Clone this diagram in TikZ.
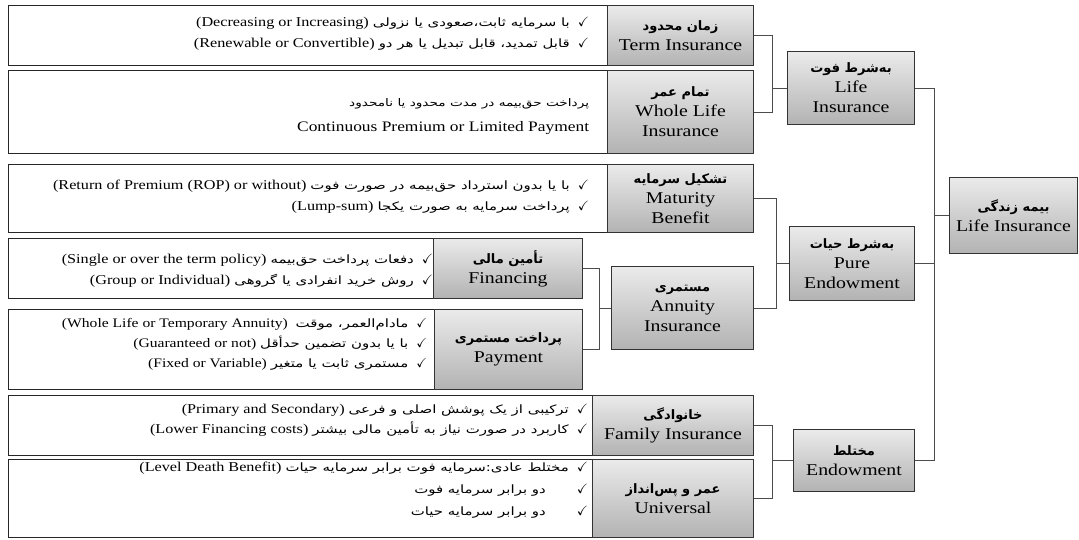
\documentclass[tikz,border=0pt]{standalone}
\usepackage{fontspec}
\usepackage{amssymb}
\setmainfont{Liberation Serif}[FakeStretch=1.2]
\newfontfamily\fafont[Script=Arabic,FakeStretch=1.3]{DejaVu Sans}
\newfontfamily\faheadfont[Script=Arabic]{DejaVu Sans}
\TeXXeTstate=1
\usetikzlibrary{calc}
\newcommand{\fa}[1]{{\fafont\fontsize{11.5}{14}\selectfont\beginR #1\endR}}
\newcommand{\fahead}[1]{{\faheadfont\bfseries\fontsize{13}{16}\selectfont\beginR #1\endR}}
\newcommand{\ck}{\hspace{8pt}$\checkmark$}
\tikzset{
  catbox/.style={draw=black!80, line width=1pt, top color=black!8, bottom color=black!30,
    anchor=north west, inner sep=0pt, align=center, font=\fontsize{16.5}{20}\selectfont},
  detbox/.style={draw=black!85, line width=1.3pt, fill=white, anchor=north west, inner sep=0pt},
  dettxt/.style={anchor=east, inner sep=0pt, align=right, font=\fontsize{13.5}{21}\selectfont},
  link/.style={draw=black!70, line width=0.9pt},
}

\begin{document}
\begin{tikzpicture}[x=1pt,y=-1pt]
				%%%%% START %%%%%
				\def\spa{772}
				\def\spb{776}
				\def\spc{599}
				\def\spd{934}

				\path[use as bounding box] (0,0) rectangle (1079,539);

				% white boxes with the details
				\node[detbox, minimum width=599, minimum height=60] (termd) at (8,5) {};
				\node[detbox, minimum width=599, minimum height=83] (wholed) at (8,70) {};
				\node[detbox, minimum width=599, minimum height=68] (maturd) at (8,164) {};
				\node[detbox, minimum width=425, minimum height=60] (finand) at (8,238) {};
				\node[detbox, minimum width=426, minimum height=80] (paymd) at (8,309) {};
				\node[detbox, minimum width=584, minimum height=60] (familyd) at (8,395) {};
				\node[detbox, minimum width=584, minimum height=78] (univd) at (8,459) {};

				\node[dettxt] (termt) at ([xshift=-19,yshift=2]termd.east)
					{(Decreasing or Increasing)\ \fa{با سرمایه ثابت،صعودی یا نزولی}\ck\\
					 (Renewable or Convertible)\ \fa{قابل تمدید، قابل تبدیل یا هر دو}\ck};
				\node[dettxt, font=\fontsize{14.5}{25}\selectfont] (wholet) at ([xshift=-19,yshift=-4]wholed.east)
					{{\fafont\fontsize{10.5}{12}\selectfont\beginR پرداخت حق‌بیمه در مدت محدود یا نامحدود\endR}\\
					 Continuous Premium or Limited Payment};
				\node[dettxt] (maturt) at ([xshift=-19,yshift=2]maturd.east)
					{(Return of Premium (ROP) or without)\ \fa{با یا بدون استرداد حق‌بیمه در صورت فوت}\ck\\
					 (Lump-sum)\ \fa{پرداخت سرمایه به صورت یکجا}\ck};
				\node[dettxt] (financt) at ([xshift=-1,yshift=-2]finand.east)
					{(Single or over the term policy)\ \fa{دفعات پرداخت حق‌بیمه}\ck\\
					 (Group or Individual)\ \fa{روش خرید انفرادی یا گروهی}\ck};
				\node[dettxt, font=\fontsize{13}{20}\selectfont] (paymt) at ([xshift=-8,yshift=5]paymd.east)
					{(Whole Life or Temporary Annuity)\ \ \fa{مادام‌العمر، موقت}\ck\\
					 (Guaranteed or not)\ \fa{با یا بدون تضمین حدأقل}\ck\\
					 (Fixed or Variable)\ \fa{مستمری ثابت یا متغیر}\ck};
				\node[dettxt, font=\fontsize{13.5}{20}\selectfont] (familyt) at ([xshift=-5,yshift=5]familyd.east)
					{(Primary and Secondary)\ \fa{ترکیبی از یک پوشش اصلی و فرعی}\ck\\
					 (Lower Financing costs)\ \fa{کاربرد در صورت نیاز به تأمین مالی بیشتر}\ck};
				\node[dettxt, font=\fontsize{13.5}{22}\selectfont] (univt) at ([xshift=-5,yshift=9]univd.east)
					{(Level Death Benefit)\ \fa{مختلط عادی:سرمایه فوت برابر سرمایه حیات}\ck\\
					 \fa{دو برابر سرمایه فوت}\hspace{23pt}\ck\\
					 \fa{دو برابر سرمایه حیات}\hspace{23pt}\ck};

				% grey boxes
				\node[catbox, minimum width=146, minimum height=60] (term) at (607,5) {\fahead{زمان محدود}\\Term Insurance};
				\node[catbox, minimum width=146, minimum height=83] (whole) at (607,70) {\fahead{تمام عمر}\\Whole Life\\Insurance};
				\node[catbox, minimum width=127, minimum height=73] (life) at (787,51) {\fahead{به‌شرط فوت}\\Life\\Insurance};
				\node[catbox, minimum width=146, minimum height=68] (matur) at (607,164) {\fahead{تشکیل سرمایه}\\Maturity\\Benefit};
				\node[catbox, minimum width=149, minimum height=60] (finan) at (433,238) {\fahead{تأمین مالی}\\Financing};
				\node[catbox, minimum width=148, minimum height=80] (paym) at (434,309) {\fahead{پرداخت مستمری}\\Payment};
				\node[catbox, minimum width=142, minimum height=83] (annu) at (611,266) {\fahead{مستمری}\\Annuity\\Insurance};
				\node[catbox, minimum width=125, minimum height=74] (pure) at (789,226) {\fahead{به‌شرط حیات}\\Pure\\Endowment};
				\node[catbox, minimum width=128, minimum height=76] (main) at (949,177) {\fahead{بیمه زندگی}\\Life Insurance};
				\node[catbox, minimum width=161, minimum height=60] (family) at (592,395) {\fahead{خانوادگی}\\Family Insurance};
				\node[catbox, minimum width=161, minimum height=78] (univ) at (592,459) {\fahead{عمر و پس‌انداز}\\Universal};
				\node[catbox, minimum width=121, minimum height=62] (endow) at (793,429) {\fahead{مختلط}\\Endowment};

				% brackets
				\coordinate (sp1) at (\spa,0);
				\coordinate (sp2) at (\spb,0);
				\coordinate (sp3) at (\spc,0);
				\coordinate (sp4) at (\spd,0);

				\draw[link] (term.east) -| (sp1 |- whole.east) -- (whole.east);
				\draw[link] (sp1 |- life.west) -- (life.west);

				\draw[link] (matur.east) -| (sp2 |- annu.east) -- (annu.east);
				\draw[link] (sp2 |- pure.west) -- (pure.west);

				\draw[link] (finan.east) -| (sp3 |- paym.east) -- (paym.east);
				\draw[link] (sp3 |- annu.west) -- (annu.west);

				\draw[link] (family.east) -| (sp1 |- univ.east) -- (univ.east);
				\draw[link] (sp1 |- endow.west) -- (endow.west);

				\draw[link] (life.east) -| (sp4 |- endow.east) -- (endow.east);
				\draw[link] (pure.east) -- (sp4 |- pure.east);
				\draw[link] (sp4 |- main.west) -- (main.west);
				%%%%% END %%%%%
\end{tikzpicture}
\end{document}
